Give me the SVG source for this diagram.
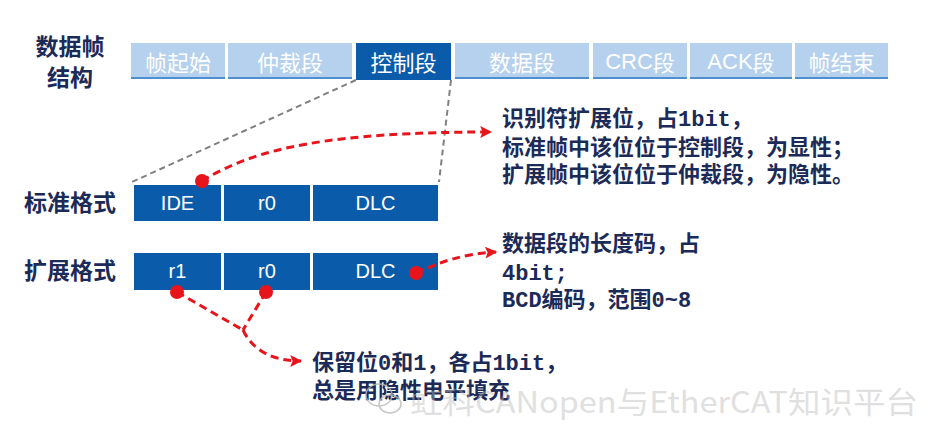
<svg xmlns="http://www.w3.org/2000/svg" width="950" height="448" viewBox="0 0 950 448">
<defs>
<style>
.seg{fill:#B5D1EE}
.segline{stroke:#4F8FD0;stroke-width:2}
.segtxt{font-family:"Noto Sans CJK SC","Liberation Sans",sans-serif;font-size:22px;fill:#FFFFFF;text-anchor:middle;dominant-baseline:central}
.lat{font-family:"Liberation Sans","Noto Sans CJK SC",sans-serif}
.box{fill:#0A5CAB}
.boxtxt{font-family:"Liberation Sans",Arial,sans-serif;font-size:20px;fill:#FFFFFF;text-anchor:middle;dominant-baseline:central}
.lbl{font-family:"Liberation Mono","Noto Sans CJK SC",monospace;font-size:23px;font-weight:bold;fill:#1B2A57;text-anchor:middle;dominant-baseline:central}
.note{font-family:"Liberation Mono","Noto Sans CJK SC",monospace;font-size:22px;font-weight:bold;fill:#1B2A57;dominant-baseline:central}
.gray{fill:none;stroke:#808080;stroke-width:2;stroke-dasharray:6 4}
.red{fill:none;stroke:#E8141B;stroke-width:3;stroke-dasharray:8 5}
.dot{fill:#E8141B}
.wm{font-family:"Noto Sans CJK SC","Liberation Sans",sans-serif;font-size:30px;fill:#BBBBBB;opacity:0.55;dominant-baseline:central}
</style>
<marker id="arr" viewBox="0 0 10 10" refX="9" refY="5" markerWidth="4" markerHeight="4" markerUnits="strokeWidth" orient="auto">
<path d="M0,0 L10,5 L0,10 L2,5 z" fill="#E8141B"/>
</marker>
</defs>
<rect width="950" height="448" fill="#FFFFFF"/>

<g id="title">
<text class="lbl" x="70" y="49">数据帧</text>
<text class="lbl" x="70" y="80">结构</text>
</g>

<g id="frame">
<g id="seg-sof"><rect class="seg" x="131" y="43" width="94" height="36"/><line class="segline" x1="131" y1="78" x2="225" y2="78"/><text class="segtxt" x="178" y="61">帧起始</text></g>
<g id="seg-arb"><rect class="seg" x="228" y="43" width="124" height="36"/><line class="segline" x1="228" y1="78" x2="352" y2="78"/><text class="segtxt" x="290" y="61">仲裁段</text></g>
<g id="seg-ctrl"><rect class="box" x="356" y="43" width="95" height="37"/><text class="segtxt" x="403.5" y="61">控制段</text></g>
<g id="seg-data"><rect class="seg" x="455" y="43" width="134" height="36"/><line class="segline" x1="455" y1="78" x2="589" y2="78"/><text class="segtxt" x="522" y="61">数据段</text></g>
<g id="seg-crc"><rect class="seg" x="593" y="43" width="94" height="36"/><line class="segline" x1="593" y1="78" x2="687" y2="78"/><text class="segtxt" x="640" y="61"><tspan class="lat">CRC</tspan>段</text></g>
<g id="seg-ack"><rect class="seg" x="690" y="43" width="102" height="36"/><line class="segline" x1="690" y1="78" x2="792" y2="78"/><text class="segtxt" x="741" y="61"><tspan class="lat">ACK</tspan>段</text></g>
<g id="seg-eof"><rect class="seg" x="795" y="43" width="93" height="36"/><line class="segline" x1="795" y1="78" x2="888" y2="78"/><text class="segtxt" x="841.5" y="61">帧结束</text></g>
</g>

<g id="std-label"><text class="lbl" x="70" y="205">标准格式</text></g>
<g id="ext-label"><text class="lbl" x="70" y="273">扩展格式</text></g>

<g id="std-row">
<g id="std-ide"><rect class="box" x="134" y="185" width="87" height="36"/><text class="boxtxt" x="177.5" y="203">IDE</text></g>
<g id="std-r0"><rect class="box" x="224" y="185" width="86" height="36"/><text class="boxtxt" x="267" y="203">r0</text></g>
<g id="std-dlc"><rect class="box" x="313" y="185" width="125" height="36"/><text class="boxtxt" x="375.5" y="203">DLC</text></g>
</g>

<g id="ext-row">
<g id="ext-r1"><rect class="box" x="134" y="253" width="87" height="37"/><text class="boxtxt" x="177.5" y="271">r1</text></g>
<g id="ext-r0"><rect class="box" x="224" y="253" width="86" height="37"/><text class="boxtxt" x="267" y="271">r0</text></g>
<g id="ext-dlc"><rect class="box" x="313" y="253" width="125" height="37"/><text class="boxtxt" x="375.5" y="271">DLC</text></g>
</g>

<g id="note-ide">
<text class="note" x="502" y="120">识别符扩展位，占1bit，</text>
<text class="note" x="502" y="149">标准帧中该位位于控制段，为显性；</text>
<text class="note" x="502" y="176">扩展帧中该位位于仲裁段，为隐性。</text>
</g>
<g id="note-dlc">
<text class="note" x="502" y="245">数据段的长度码，占</text>
<text class="note" x="502" y="274">4bit;</text>
<text class="note" x="502" y="301">BCD编码，范围0~8</text>
</g>
<g id="note-r">
<text class="note" x="312" y="364">保留位0和1，各占1bit，</text>
<text class="note" x="312" y="392">总是用隐性电平填充</text>
</g>

<g id="connectors">
<path class="gray" d="M356,80 L132,182"/>
<path class="gray" d="M451,80 L439,182"/>
<path class="red" d="M202,181 C255,148 330,132 491,132" marker-end="url(#arr)"/>
<path class="red" d="M416,273 C440,262 462,254 496,252" marker-end="url(#arr)"/>
<path class="red" d="M177,292 L243,330"/>
<path class="red" d="M266,292 L243,330"/>
<path class="red" d="M243,330 Q258,361 301,361" marker-end="url(#arr)"/>
<circle class="dot" cx="202" cy="181" r="7"/>
<circle class="dot" cx="416" cy="273" r="7"/>
<circle class="dot" cx="177" cy="292" r="7"/>
<circle class="dot" cx="266" cy="292" r="7"/>
</g>

<g id="watermark" opacity="0.8">
<g fill="none" stroke="#BBBBBB" stroke-width="1.5">
<ellipse cx="379" cy="395" rx="13" ry="11"/>
<ellipse cx="390" cy="404" rx="11" ry="9"/>
</g>
<text class="wm" x="410" y="400" textLength="508" lengthAdjust="spacingAndGlyphs">虹科CANopen与EtherCAT知识平台</text>
</g>
</svg>
